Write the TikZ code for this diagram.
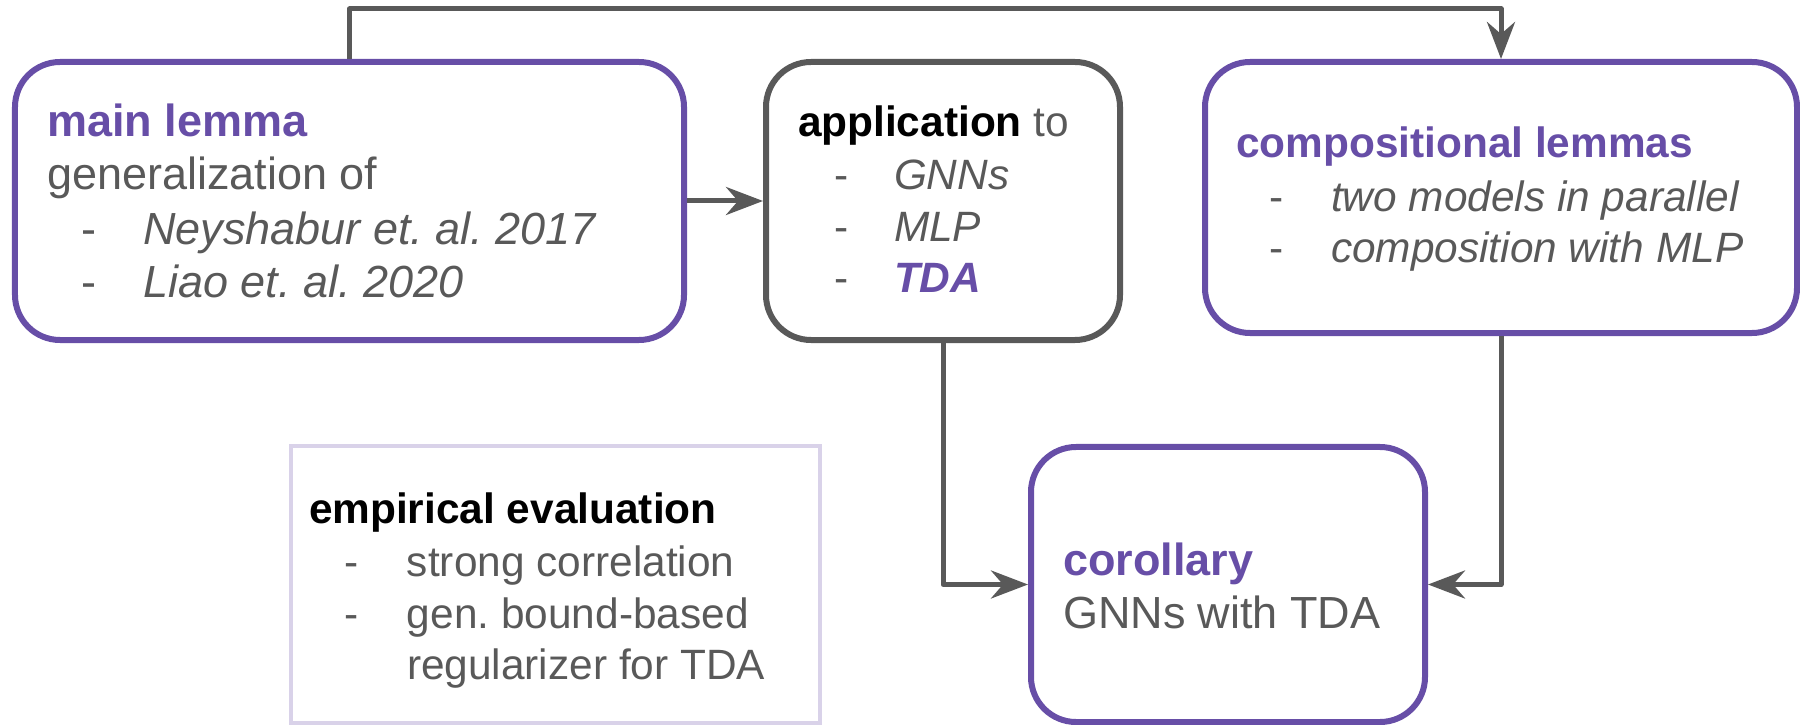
\documentclass[tikz,border=0pt]{standalone}
\usepackage{fontspec}
\setmainfont{Liberation Sans}
\usetikzlibrary{arrows.meta,calc}
\definecolor{lpurple}{HTML}{674EA7}
\definecolor{dgray}{HTML}{595959}
\definecolor{lav}{HTML}{D9D2E9}
\newcommand\dsh[1]{\makebox[#1][l]{-}}
\newcommand\bigsz{\fontsize{18}{21}\selectfont}
\newcommand\smallsz{\fontsize{16.96}{20}\selectfont}
\frenchspacing
\begin{document}
\begin{tikzpicture}[x=0.4pt,y=-0.4pt,
  pbox/.style={draw=lpurple, line width=2.4pt, rounded corners=18pt, inner sep=0pt},
  gbox/.style={draw=dgray, line width=2.4pt, rounded corners=18pt, inner sep=0pt},
  lbox/.style={draw=lav, line width=1.6pt, inner sep=0pt},
  txt/.style={anchor=base west, inner sep=0pt, outer sep=0pt, text=dgray, font=\bigsz},
  stxt/.style={txt, font=\smallsz},
  conn/.style={draw=dgray, line width=2pt, line join=round},
  arr/.style={conn, -{Stealth[length=14.8pt,width=11.2pt,inset=4.8pt]}}]
\useasboundingbox (0,0) rectangle (1800,725);
% boxes
\node[pbox, minimum width=267.6pt, minimum height=111.2pt] (main) at (349.5,201) {};
\node[gbox, minimum width=141.6pt, minimum height=111.2pt] (app) at (943,201) {};
\node[pbox, minimum width=236.8pt, minimum height=108.4pt] (comp) at (1501,197.5) {};
\node[lbox, minimum width=211.6pt, minimum height=110.8pt] (emp) at (555.5,584.5) {};
\node[pbox, minimum width=157.6pt, minimum height=110pt] (cor) at (1228,584.5) {};
% main lemma text
\node[txt, text=lpurple, font=\bigsz\bfseries] (mainT) at (47,137) {main lemma};
\node[txt] (mainA) at (47,190) {generalization of};
\node[txt] (mainB) at (81,245) {\dsh{24.8pt}\textit{Neyshabur et. al. 2017}};
\node[txt] (mainC) at (81,298) {\dsh{24.8pt}\textit{Liao et. al. 2020}};
% application text
\node[stxt] (appT) at (798,137) {\textcolor{black}{\bfseries application} to};
\node[stxt] (appA) at (834,190) {\dsh{24pt}\textit{GNNs}};
\node[stxt] (appB) at (834,242) {\dsh{24pt}\textit{MLP}};
\node[stxt] (appC) at (834,293) {\dsh{24pt}\textcolor{lpurple}{\bfseries\itshape TDA}};
% compositional text
\node[stxt, text=lpurple, font=\smallsz\bfseries] (compT) at (1236,158) {compositional lemmas};
\node[stxt] (compA) at (1269,212) {\dsh{24.8pt}\textit{two models in parallel}};
\node[stxt] (compB) at (1269,263) {\dsh{24.8pt}\textit{composition with MLP}};
% empirical text
\node[stxt, text=black, font=\smallsz\bfseries] (empT) at (309,523) {empirical evaluation};
\node[stxt] (empA) at (344,576) {\dsh{25.2pt}strong correlation};
\node[stxt] (empB) at (344,628) {\dsh{25.2pt}gen. bound-based};
\node[stxt] (empC) at (407,679) {regularizer for TDA};
% corollary text
\node[txt, text=lpurple, font=\bigsz\bfseries] (corT) at (1063,575) {corollary};
\node[txt] (corA) at (1063,628) {GNNs with TDA};
% connectors
\coordinate (topR) at ($(comp.north)+(0,-50)$);
\draw[arr] (main.north) |- (topR) -- (comp.north);
\draw[arr] (main.east) -- (app.west);
\draw[arr] (app.south) |- (cor.west);
\draw[arr] (comp.south) |- (cor.east);
\end{tikzpicture}
\end{document}
